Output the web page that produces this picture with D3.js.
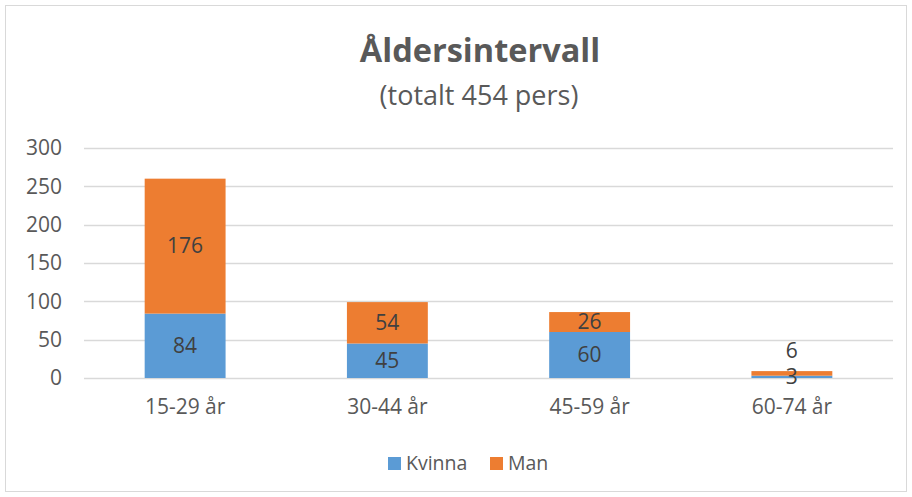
<!DOCTYPE html>
<html>
<head>
<meta charset="utf-8">
<script src="https://cdn.jsdelivr.net/npm/d3@7"></script>
<style>
  body { margin: 0; background: #fff; }
  text { font-family: "Open Sans", "Noto Sans", sans-serif; }
</style>
</head>
<body>
<div id="chart"></div>
<script>
// age groups and counts per sex
var categories = ["15-29 år", "30-44 år", "45-59 år", "60-74 år"];
var kvinna = [84, 45, 60, 3];
var man = [176, 54, 26, 6];
var seriesNames = ["Kvinna", "Man"];
var yTicks = [0, 50, 100, 150, 200, 250, 300];

(function(){
  var width = 912, height = 497;
  var margin = {top: 148, right: 19, bottom: 119, left: 84};
  var colors = {Kvinna: "#5B9BD5", Man: "#ED7D31"};

  var svg = d3.select("#chart")
    .append("svg")
      .attr("width", width)
      .attr("height", height);

  // outer border
  svg.append("rect")
    .attr("x", 5.5).attr("y", 5.5)
    .attr("width", width - 11).attr("height", height - 11)
    .attr("fill", "#fff")
    .attr("stroke", "#D9D9D9");

  // title
  svg.append("text")
    .attr("x", 480).attr("y", 62)
    .attr("text-anchor", "middle")
    .attr("font-size", 32.5)
    .attr("font-weight", "bold")
    .attr("fill", "#595959")
    .text("Åldersintervall");

  svg.append("text")
    .attr("x", 479).attr("y", 105)
    .attr("text-anchor", "middle")
    .attr("font-size", 27)
    .attr("fill", "#595959")
    .text("(totalt 454 pers)");

  var g = svg.append("g")
    .attr("transform", "translate(" + margin.left + "," + margin.top + ")");

  var w = width - margin.left - margin.right,
      h = height - margin.top - margin.bottom;

  var x = d3.scaleBand()
    .domain(categories)
    .range([0, w]);

  var y = d3.scaleLinear()
    .domain([0, 300])
    .range([h, 0]);

  // gridlines
  g.selectAll(".grid")
    .data(yTicks)
    .join("line")
      .attr("class", "grid")
      .attr("x1", 0).attr("x2", w)
      .attr("y1", function(d) { return Math.round(y(d)) + 0.5; })
      .attr("y2", function(d) { return Math.round(y(d)) + 0.5; })
      .attr("stroke", "#D9D9D9")
      .attr("stroke-width", 1.3);

  // y axis
  var yAxis = g.append("g")
    .call(d3.axisLeft(y).tickValues(yTicks).tickSize(0).tickPadding(22));
  yAxis.select(".domain").remove();
  yAxis.selectAll("text")
    .attr("font-size", 21)
    .attr("fill", "#595959")
    .style("font-family", "'Open Sans', sans-serif");

  // x axis
  var xAxis = g.append("g")
    .attr("transform", "translate(0," + h + ")")
    .call(d3.axisBottom(x).tickSize(0).tickPadding(21));
  xAxis.select(".domain").remove();
  xAxis.selectAll("text")
    .attr("font-size", 21)
    .attr("fill", "#595959")
    .style("font-family", "'Open Sans', sans-serif");

  // stack
  var table = categories.map(function(c, i) {
    return {cat: c, Kvinna: kvinna[i], Man: man[i]};
  });
  var stack = d3.stack().keys(seriesNames)(table);
  var barW = x.bandwidth() * 0.4;

  var layers = g.selectAll(".layer")
    .data(stack)
    .join("g")
      .attr("class", "layer")
      .attr("fill", function(d) { return colors[d.key]; });

  layers.selectAll("rect")
    .data(function(d) { return d; })
    .join("rect")
      .attr("x", function(d) { return x(d.data.cat) + (x.bandwidth() - barW) / 2; })
      .attr("y", function(d) { return y(d[1]); })
      .attr("width", barW)
      .attr("height", function(d) { return y(d[0]) - y(d[1]); });

  // value labels
  stack.forEach(function(layer) {
    layer.forEach(function(d) {
      var v = d[1] - d[0];
      var ly = (y(d[0]) + y(d[1])) / 2;
      // tiny top segment: label goes above the bar
      if (layer.key === "Man" && y(d[0]) - y(d[1]) < 10) ly = y(d[1]) - 20;
      g.append("text")
        .attr("x", x(d.data.cat) + x.bandwidth() / 2)
        .attr("y", ly)
        .attr("dy", "0.35em")
        .attr("text-anchor", "middle")
        .attr("font-size", 21)
        .attr("fill", "#404040")
        .text(v);
    });
  });

  // legend
  var legend = svg.append("g");
  var items = [{name: "Kvinna", x: 388}, {name: "Man", x: 490}];
  items.forEach(function(it) {
    legend.append("rect")
      .attr("x", it.x).attr("y", 457)
      .attr("width", 13).attr("height", 13)
      .attr("fill", colors[it.name]);
    legend.append("text")
      .attr("x", it.x + 18).attr("y", 463)
      .attr("dy", "0.35em")
      .attr("font-size", 19.5)
      .attr("fill", "#595959")
      .text(it.name);
  });
})();
</script>
</body>
</html>
